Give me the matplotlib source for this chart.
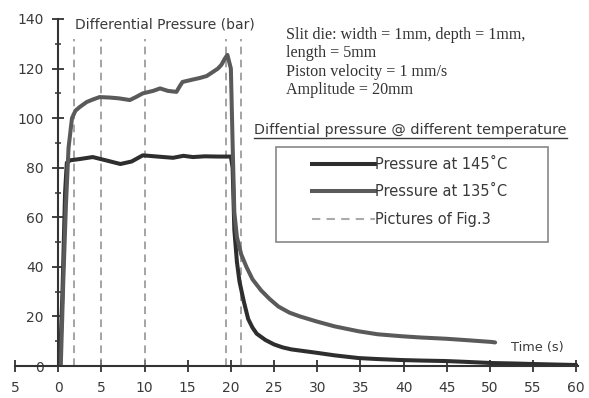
import matplotlib
matplotlib.use("Agg")
import matplotlib.pyplot as plt
from matplotlib.patches import Rectangle
from matplotlib.lines import Line2D

# Data
t145 = [0.2, 0.5, 0.8, 1.0, 1.4, 2.5, 4.0, 5.5, 7.2, 8.5, 9.8, 11.5, 13.3, 14.5,
        15.6, 17.0, 18.5, 20.0, 20.2, 20.4, 20.7, 21.0, 21.5, 22.0, 22.5, 23.0,
        24.0, 25.0, 26.0, 27.0, 28.5, 30.0, 32.0, 34.8, 37.0, 39.8, 42.0, 44.9,
        47.0, 50.2, 53.0, 55.0, 57.5, 60.0]
p145 = [0, 30, 70, 82, 83, 83.5, 84.3, 83, 81.5, 82.5, 85, 84.5, 84, 84.8,
        84.3, 84.6, 84.5, 84.5, 80, 55, 42, 34, 26, 19, 15.5, 13,
        10.5, 8.7, 7.5, 6.7, 6.0, 5.3, 4.3, 3.2, 2.8, 2.4, 2.2, 2.0,
        1.7, 1.2, 1.0, 0.8, 0.6, 0.4]

t135 = [0.3, 0.6, 0.9, 1.2, 1.6, 2.0, 2.5, 3.3, 4.0, 4.8, 6.0, 7.0, 8.3, 9.0,
        9.8, 11.0, 11.8, 12.7, 13.7, 14.1, 14.4, 15.5, 16.4, 17.2, 17.9, 18.5,
        18.9, 19.3, 19.6, 20.0, 20.2, 20.4, 20.7, 21.2, 21.8, 22.5, 23.5, 24.5,
        25.5, 26.8, 28.0, 29.9, 32.0, 34.8, 37.0, 39.8, 42.0, 44.9, 47.0, 50.2, 50.6]
p135 = [0, 35, 65, 88, 100, 103, 104.5, 106.5, 107.5, 108.5, 108.3, 108, 107.3, 108.5,
        110, 111, 112, 111, 110.6, 113, 114.6, 115.5, 116.2, 117, 118.6, 120,
        121.5, 124, 125.5, 120, 90, 62, 52, 45, 40, 35, 30.5, 27,
        24, 21.5, 20, 18, 16, 14, 12.8, 12, 11.5, 11, 10.5, 9.7, 9.5]

fig_times = [1.8, 5.0, 10.0, 19.4, 21.2]

xticks = list(range(-5, 61, 5))
xlabels = ["5"] + [str(v) for v in range(0, 61, 5)]
yticks = list(range(0, 141, 20))

W, H = 589, 398
fig = plt.figure(figsize=(W / 100, H / 100), dpi=100)
ax = fig.add_axes([15 / W, 32 / H, 563 / W, 347 / H])
ax.set_xlim(-5, 60.2)
ax.set_ylim(0, 140)

c145 = "#2e2e2e"
c135 = "#5a5a5a"
cdash = "#8c8c8c"
txt = "#3a3a3a"

ax.vlines(fig_times, 0, 132, colors=cdash, linestyles=(0, (5, 3.5)), lw=1.1)
ax.plot(t145, p145, color=c145, lw=2.9, solid_joinstyle="round", solid_capstyle="round")
ax.plot(t135, p135, color=c135, lw=2.9, solid_joinstyle="round", solid_capstyle="round")

for s in ["top", "right"]:
    ax.spines[s].set_visible(False)
ax.spines["left"].set_position(("data", 0))
ax.spines["bottom"].set_position(("data", 0))
for s in ["left", "bottom"]:
    ax.spines[s].set_color("#333333")
    ax.spines[s].set_linewidth(1.5)

ax.set_xticks(xticks)
ax.set_xticklabels(xlabels)
ax.set_yticks(yticks)
ax.set_yticks(list(range(10, 140, 20)), minor=True)
ax.tick_params(axis="both", which="major", direction="inout", length=9, width=1.3,
               color="#333333", labelsize=10, labelcolor=txt)
ax.tick_params(axis="x", which="major", pad=6)
ax.tick_params(axis="y", which="major", pad=6)
ax.tick_params(axis="y", which="minor", direction="inout", length=4, width=1.1, color="#333333")
for lab in ax.get_xticklabels() + ax.get_yticklabels():
    lab.set_fontfamily("DejaVu Sans")

ax.text(2.0, 137.6, "Differential Pressure (bar)", fontsize=10, color=txt,
        family="DejaVu Sans", va="center", ha="left")
ax.text(52.4, 7.3, "Time (s)", fontsize=9.3, color=txt,
        family="DejaVu Sans", va="center", ha="left")

notes = ["Slit die: width = 1mm, depth = 1mm,", "length = 5mm",
         "Piston velocity = 1 mm/s", "Amplitude = 20mm"]
for i, line in enumerate(notes):
    ax.text(26.4, 133.6 - i * 7.4, line, fontsize=11.6, color="#333333",
            family="Liberation Serif", va="center", ha="left")

title = ax.text(22.7, 95.2, "Diffential pressure @ different temperature", fontsize=10.4,
                color=txt, family="DejaVu Sans", va="center", ha="left")

# legend box
fig.add_artist(Rectangle((276 / W, 1 - 242 / H), 272 / W, 95 / H, transform=fig.transFigure,
                         fill=False, edgecolor="#888888", lw=1.2))
handles = [Line2D([], [], color=c145, lw=2.9),
           Line2D([], [], color=c135, lw=2.9),
           Line2D([], [], color="#aaaaaa", lw=1.5, ls=(0, (4, 3)))]
labels = ["Pressure at 145\u02daC", "Pressure at 135\u02daC", "Pictures of Fig.3"]
leg = ax.legend(handles, labels, loc="upper left", bbox_to_anchor=(312 / W, 1 - 157 / H),
                bbox_transform=fig.transFigure, frameon=False, borderpad=0, borderaxespad=0,
                handlelength=4.3, handletextpad=0.05, labelspacing=0.85,
                prop={"family": "DejaVu Sans", "size": 10.5})
for t in leg.get_texts():
    t.set_color(txt)

# underline for the legend title
fig.canvas.draw()
bb = title.get_window_extent()
fig.add_artist(Line2D([bb.x0 / W, bb.x1 / W], [(bb.y0 - 1) / H, (bb.y0 - 1) / H],
                      transform=fig.transFigure, color=txt, lw=1.0))

fig.savefig("out.png", dpi=100)
